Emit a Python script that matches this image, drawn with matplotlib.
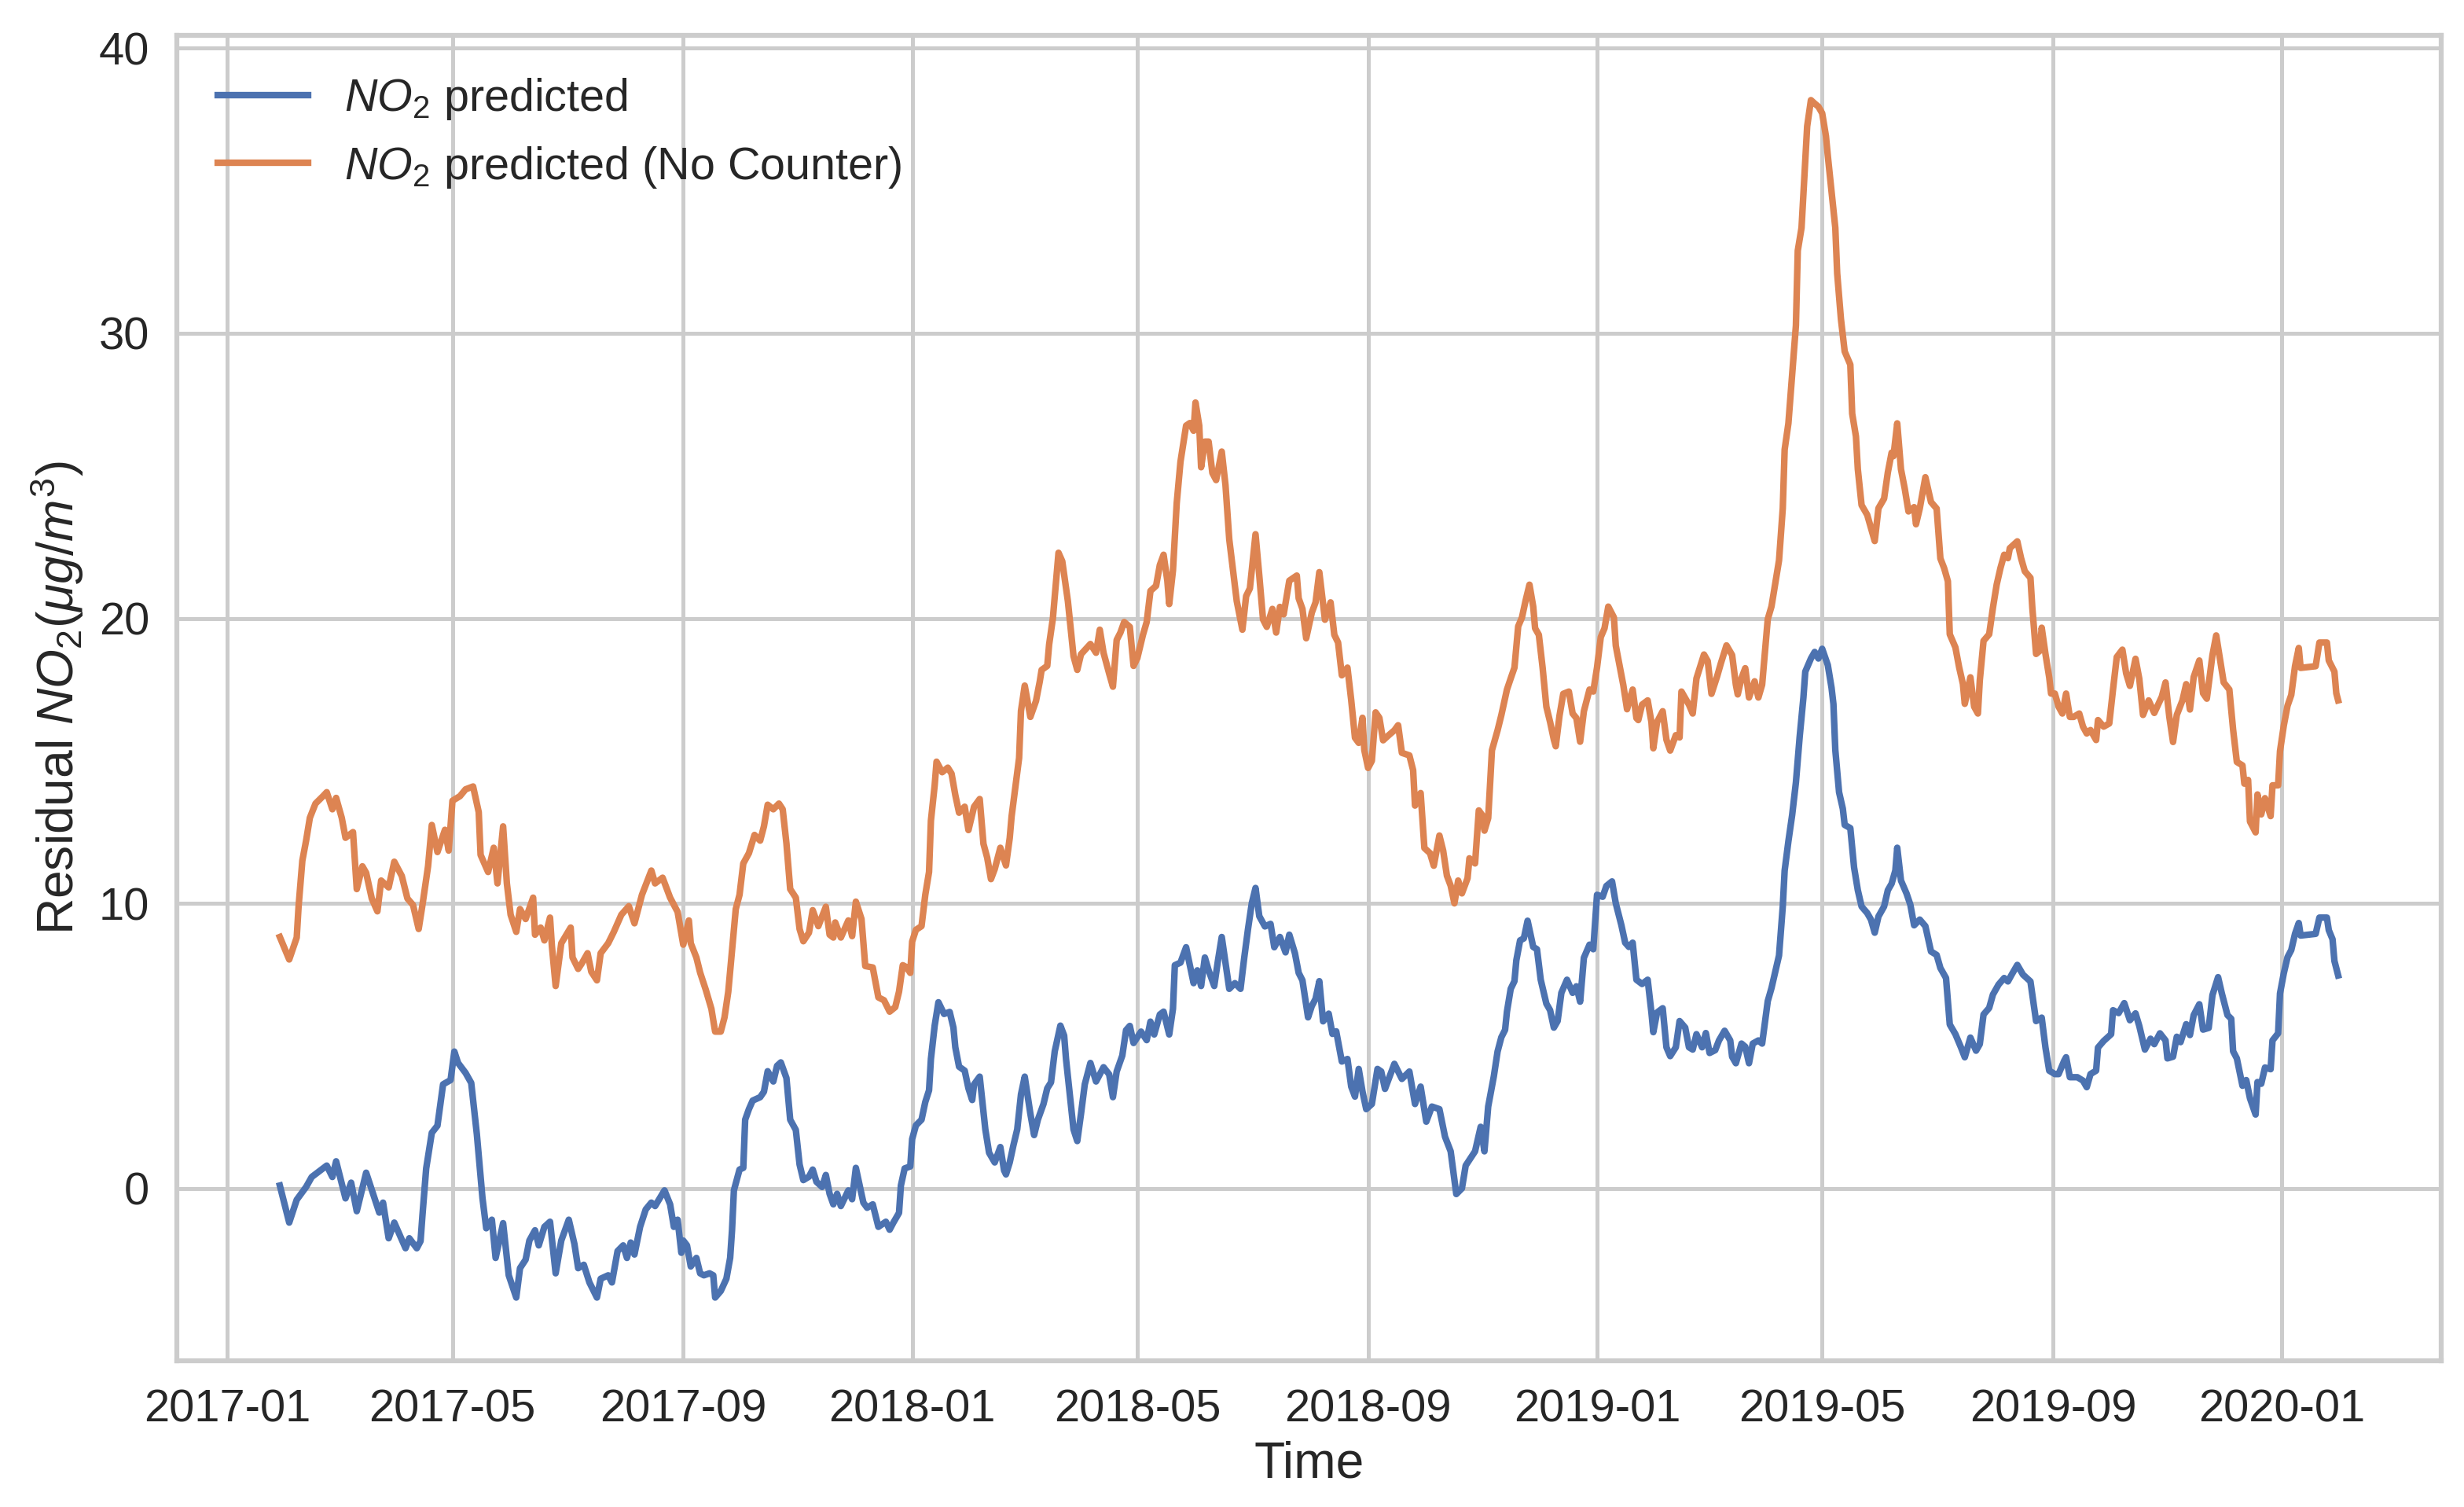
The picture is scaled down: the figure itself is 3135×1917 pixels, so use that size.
import matplotlib
matplotlib.use('Agg')
import matplotlib.pyplot as plt
import matplotlib.dates as mdates
import pandas as pd

START = '2017-01-01'

blue_days = [28, 33, 37, 42, 45, 49, 53, 56, 58, 63, 66, 69, 74, 81, 83, 86, 89, 95, 97, 101, 103, 104, 106, 109, 112, 115, 119, 121, 123, 127, 130, 132, 133, 136, 138, 141, 143, 147, 150, 154, 156, 159, 161, 164, 166, 169, 172, 175, 178, 182, 185, 187, 190, 193, 197, 199, 203, 205, 208, 211, 213, 215, 217, 220, 223, 226, 228, 233, 236, 238, 240, 242, 243, 245, 247, 250, 252, 254, 257, 259, 260, 263, 266, 268, 269, 270, 273, 275, 276, 278, 280, 284, 286, 288, 291, 293, 295, 298, 300, 303, 305, 307, 310, 312, 314, 317, 319, 321, 323, 325, 327, 331, 333, 335, 337, 339, 341, 344, 347, 351, 353, 355, 358, 359, 361, 364, 365, 367, 370, 372, 374, 375, 377, 379, 382, 385, 387, 388, 390, 393, 395, 397, 398, 401, 402, 404, 406, 409, 412, 414, 415, 417, 419, 421, 423, 425, 428, 430, 432, 435, 437, 439, 441, 444, 446, 447, 449, 451, 453, 455, 457, 460, 463, 467, 470, 472, 474, 477, 479, 481, 483, 487, 490, 492, 494, 497, 499, 502, 504, 505, 508, 511, 513, 515, 517, 519, 521, 523, 526, 528, 530, 532, 534, 537, 540, 542, 544, 546, 548, 550, 553, 556, 558, 561, 564, 566, 569, 571, 573, 576, 578, 580, 582, 584, 587, 589, 591, 594, 597, 599, 601, 603, 605, 607, 610, 613, 615, 617, 619, 622, 626, 630, 633, 636, 639, 642, 646, 649, 652, 654, 655, 658, 660, 665, 668, 670, 672, 675, 677, 679, 681, 682, 684, 686, 687, 689, 691, 693, 696, 698, 700, 703, 705, 707, 709, 711, 714, 717, 719, 721, 723, 726, 728, 730, 733, 735, 738, 740, 743, 745, 747, 749, 751, 754, 757, 759, 760, 762, 765, 767, 769, 772, 774, 777, 779, 781, 783, 786, 788, 790, 793, 795, 798, 801, 802, 804, 807, 809, 811, 813, 816, 818, 821, 823, 825, 827, 829, 830, 832, 834, 836, 838, 840, 841, 844, 846, 848, 850, 853, 855, 856, 857, 859, 861, 862, 865, 867, 869, 871, 874, 876, 878, 880, 883, 885, 887, 889, 890, 892, 895, 897, 899, 902, 905, 908, 911, 913, 916, 918, 921, 924, 926, 929, 932, 934, 936, 939, 941, 944, 947, 949, 951, 954, 957, 961, 964, 967, 969, 971, 974, 976, 979, 980, 982, 986, 989, 991, 993, 996, 997, 1000, 1004, 1005, 1008, 1011, 1014, 1017, 1019, 1022, 1025, 1027, 1030, 1033, 1034, 1037, 1039, 1041, 1044, 1046, 1048, 1051, 1053, 1056, 1058, 1061, 1063, 1066, 1068, 1069, 1071, 1074, 1076, 1078, 1081, 1082, 1084, 1086, 1089, 1090, 1093, 1094, 1096, 1098, 1100, 1102, 1104, 1105, 1113, 1115, 1119, 1120, 1122, 1123, 1125]
blue_vals = [0.1, -1.2, -0.4, 0.05, 0.4, 0.6, 0.8, 0.4, 0.95, -0.35, 0.2, -0.8, 0.55, -0.85, -0.5, -1.75, -1.2, -2.1, -1.75, -2.1, -1.85, -0.95, 0.7, 1.95, 2.2, 3.65, 3.8, 4.8, 4.4, 4.05, 3.7, 2.5, 1.9, -0.34, -1.4, -1.1, -2.44, -1.22, -3.05, -3.83, -2.8, -2.5, -1.83, -1.47, -2.0, -1.35, -1.17, -2.98, -1.83, -1.1, -1.95, -2.8, -2.68, -3.3, -3.83, -3.17, -3.05, -3.3, -2.2, -2.0, -2.44, -1.9, -2.32, -1.35, -0.74, -0.5, -0.62, -0.07, -0.56, -1.35, -1.1, -2.26, -1.83, -2.0, -2.74, -2.44, -2.98, -3.05, -2.98, -3.05, -3.83, -3.6, -3.17, -2.44, -1.47, -0.07, 0.66, 0.72, 2.41, 2.78, 3.08, 3.2, 3.39, 4.11, 3.75, 4.3, 4.42, 3.87, 2.41, 2.05, 0.84, 0.29, 0.41, 0.66, 0.23, 0.05, 0.47, -0.19, -0.56, -0.19, -0.62, -0.07, -0.38, 0.72, 0.11, -0.5, -0.68, -0.56, -1.35, -1.17, -1.45, -1.2, -0.86, 0.1, 0.7, 0.77, 1.73, 2.21, 2.41, 3.03, 3.44, 4.54, 5.71, 6.53, 6.12, 6.19, 5.64, 4.95, 4.27, 4.13, 3.51, 3.1, 3.65, 3.92, 3.3, 2.07, 1.25, 0.91, 1.45, 0.63, 0.49, 0.91, 1.52, 2.07, 3.3, 3.92, 2.62, 1.87, 2.41, 2.96, 3.51, 3.72, 4.81, 5.71, 5.36, 4.54, 3.3, 2.07, 1.66, 2.62, 3.65, 4.4, 3.75, 4.25, 4.0, 3.2, 4.1, 4.66, 5.55, 5.7, 5.1, 5.5, 5.2, 5.85, 5.4, 6.1, 6.2, 5.4, 6.3, 7.83, 7.92, 8.46, 7.83, 7.2, 7.65, 7.1, 8.1, 7.65, 7.1, 8.0, 8.82, 7.92, 7.0, 7.2, 7.0, 8.1, 9.1, 10.0, 10.54, 9.55, 9.19, 9.28, 8.46, 8.82, 8.28, 8.9, 8.25, 7.56, 7.3, 6.0, 6.4, 6.65, 7.27, 5.86, 6.13, 5.42, 5.51, 4.45, 4.54, 3.57, 3.22, 4.19, 3.4, 2.78, 2.96, 4.19, 4.1, 3.49, 3.84, 4.37, 3.84, 4.1, 2.96, 3.57, 2.34, 2.87, 2.78, 1.81, 1.3, 0.3, -0.2, 0.0, 0.8, 1.3, 2.16, 1.3, 2.87, 3.93, 4.8, 5.3, 5.56, 6.2, 7.0, 7.27, 8.0, 8.7, 8.77, 9.39, 8.47, 8.39, 7.32, 6.48, 6.25, 5.64, 5.87, 6.86, 7.32, 6.86, 7.09, 6.55, 8.09, 8.55, 8.39, 10.3, 10.23, 10.61, 10.77, 10.0, 9.23, 8.62, 8.47, 8.62, 7.32, 7.17, 7.32, 6.17, 5.48, 6.17, 6.32, 4.95, 4.64, 4.95, 5.87, 5.64, 4.95, 4.87, 5.41, 4.95, 5.45, 4.75, 4.85, 5.19, 5.53, 5.19, 4.62, 4.39, 5.08, 4.97, 4.39, 5.08, 5.19, 5.08, 6.57, 7.03, 7.6, 8.17, 9.89, 11.15, 12.18, 13.1, 14.24, 15.84, 17.22, 18.13, 18.59, 18.82, 18.59, 18.93, 18.36, 17.56, 16.99, 15.38, 13.9, 13.32, 12.75, 12.64, 11.26, 10.46, 9.89, 9.66, 9.43, 8.97, 9.54, 9.89, 10.46, 10.69, 11.15, 11.95, 10.8, 10.34, 9.95, 9.23, 9.43, 9.2, 8.31, 8.19, 7.73, 7.38, 5.75, 5.41, 4.94, 4.6, 5.29, 4.83, 5.06, 6.1, 6.33, 6.8, 7.15, 7.38, 7.26, 7.5, 7.84, 7.5, 7.26, 5.87, 5.99, 4.94, 4.13, 4.01, 4.01, 4.48, 4.6, 3.9, 3.9, 3.78, 3.55, 4.01, 4.13, 4.94, 5.17, 5.41, 6.25, 6.15, 6.5, 5.9, 6.14, 5.7, 4.87, 5.25, 5.06, 5.44, 5.19, 4.56, 4.62, 5.32, 5.13, 5.76, 5.38, 6.08, 6.46, 5.57, 5.63, 6.78, 7.41, 6.84, 6.08, 5.95, 4.81, 4.56, 3.6, 3.8, 3.16, 2.59, 3.73, 3.67, 4.24, 4.18, 5.19, 5.44, 6.84, 7.54, 8.11, 8.36, 8.93, 9.31, 8.87, 8.93, 9.5, 9.5, 9.06, 8.74, 7.98, 7.47]

orange_days = [28, 33, 37, 38, 40, 42, 44, 47, 51, 53, 56, 58, 61, 63, 67, 69, 72, 74, 77, 80, 82, 86, 89, 93, 96, 99, 102, 104, 107, 109, 112, 116, 118, 120, 124, 127, 131, 134, 135, 139, 142, 144, 147, 149, 151, 154, 156, 159, 163, 164, 167, 169, 172, 173, 175, 178, 183, 184, 187, 189, 192, 194, 197, 199, 203, 206, 210, 214, 217, 221, 226, 228, 232, 236, 240, 243, 246, 247, 250, 252, 255, 258, 260, 263, 265, 267, 269, 271, 273, 275, 278, 281, 284, 286, 288, 291, 294, 296, 298, 300, 303, 305, 307, 310, 312, 315, 319, 321, 323, 324, 327, 331, 333, 335, 338, 340, 344, 347, 350, 353, 356, 358, 360, 362, 364, 365, 367, 370, 372, 374, 375, 377, 378, 381, 384, 386, 388, 390, 393, 395, 398, 401, 403, 405, 407, 409, 412, 415, 417, 418, 420, 422, 423, 425, 428, 431, 433, 434, 437, 438, 440, 443, 445, 448, 451, 453, 455, 460, 463, 465, 467, 470, 472, 474, 476, 478, 481, 483, 485, 488, 490, 492, 495, 497, 499, 501, 502, 504, 506, 508, 511, 513, 515, 516, 518, 519, 521, 523, 525, 527, 530, 532, 534, 536, 538, 541, 543, 545, 548, 550, 552, 554, 557, 559, 561, 563, 566, 570, 571, 573, 575, 578, 580, 582, 585, 588, 590, 592, 594, 597, 599, 601, 603, 605, 606, 608, 610, 612, 614, 616, 619, 622, 624, 626, 630, 632, 633, 636, 638, 641, 643, 646, 648, 650, 652, 654, 656, 658, 661, 662, 665, 667, 669, 670, 672, 674, 677, 679, 682, 684, 686, 688, 690, 692, 694, 696, 697, 699, 701, 703, 705, 707, 708, 710, 712, 715, 717, 719, 721, 723, 726, 728, 730, 732, 734, 736, 739, 740, 742, 744, 746, 749, 751, 752, 754, 757, 759, 760, 762, 765, 767, 769, 772, 774, 775, 779, 781, 783, 787, 789, 791, 794, 796, 799, 802, 804, 805, 807, 809, 811, 814, 816, 818, 821, 823, 825, 827, 829, 830, 832, 834, 836, 837, 839, 841, 842, 844, 846, 848, 850, 852, 853, 855, 857, 858, 860, 862, 865, 866, 868, 869, 871, 874, 878, 880, 883, 885, 887, 888, 890, 892, 894, 896, 899, 900, 902, 905, 908, 911, 913, 915, 917, 918, 921, 923, 925, 926, 929, 931, 933, 934, 936, 939, 941, 943, 945, 947, 949, 950, 954, 956, 958, 961, 962, 964, 966, 967, 969, 971, 972, 974, 976, 978, 980, 982, 984, 987, 989, 991, 993, 996, 997, 1000, 1003, 1005, 1007, 1010, 1012, 1014, 1017, 1019, 1021, 1024, 1027, 1031, 1033, 1035, 1037, 1039, 1042, 1044, 1046, 1048, 1051, 1053, 1055, 1058, 1060, 1062, 1064, 1067, 1069, 1071, 1074, 1075, 1077, 1078, 1081, 1082, 1084, 1086, 1089, 1090, 1093, 1094, 1096, 1098, 1100, 1102, 1104, 1105, 1113, 1115, 1119, 1120, 1123, 1124, 1125]
orange_vals = [8.82, 8.03, 8.8, 9.9, 11.5, 12.2, 13.0, 13.5, 13.76, 13.9, 13.3, 13.7, 13.0, 12.3, 12.5, 10.5, 11.3, 11.07, 10.17, 9.72, 10.8, 10.56, 11.46, 10.96, 10.17, 9.94, 9.1, 9.94, 11.3, 12.75, 11.8, 12.58, 11.85, 13.6, 13.76, 14.0, 14.1, 13.2, 11.7, 11.1, 11.95, 10.7, 12.7, 10.7, 9.6, 9.0, 9.8, 9.45, 10.2, 8.9, 9.15, 8.7, 9.5, 8.5, 7.1, 8.6, 9.15, 8.1, 7.7, 7.9, 8.25, 7.6, 7.3, 8.25, 8.6, 9.0, 9.6, 9.9, 9.3, 10.3, 11.15, 10.7, 10.9, 10.2, 9.7, 8.55, 9.4, 8.6, 8.1, 7.57, 6.97, 6.3, 5.5, 5.5, 6.0, 6.9, 8.36, 9.8, 10.3, 11.4, 11.76, 12.4, 12.2, 12.7, 13.46, 13.3, 13.5, 13.3, 12.1, 10.5, 10.2, 9.1, 8.67, 8.97, 9.76, 9.2, 9.88, 8.9, 8.8, 9.33, 8.8, 9.4, 8.85, 10.06, 9.45, 7.8, 7.75, 6.7, 6.6, 6.2, 6.36, 6.9, 7.83, 7.76, 7.56, 8.66, 9.07, 9.2, 10.3, 11.1, 12.9, 14.14, 14.97, 14.6, 14.76, 14.55, 13.8, 13.18, 13.39, 12.57, 13.39, 13.66, 12.09, 11.6, 10.85, 11.2, 11.95, 11.33, 12.29, 13.05, 14.07, 15.1, 16.75, 17.64, 16.54, 17.1, 17.78, 18.19, 18.33, 19.08, 20.0, 22.3, 22.0, 20.6, 18.67, 18.19, 18.74, 19.1, 18.79, 19.6, 18.79, 18.06, 17.6, 19.24, 19.5, 19.87, 19.7, 18.33, 18.6, 19.42, 19.87, 20.96, 21.14, 21.87, 22.23, 21.32, 20.5, 21.68, 24.04, 25.49, 26.76, 26.85, 26.58, 27.57, 26.76, 25.3, 26.2, 26.2, 25.1, 24.85, 25.85, 24.67, 22.77, 21.68, 20.6, 19.6, 20.78, 21.05, 22.95, 21.5, 19.96, 19.7, 20.33, 19.5, 20.4, 20.14, 21.32, 21.5, 20.7, 20.33, 19.3, 20.2, 20.56, 21.62, 19.95, 20.56, 19.42, 19.15, 18.0, 18.27, 17.13, 15.81, 15.63, 16.51, 15.37, 14.75, 15.0, 16.7, 16.51, 15.72, 15.9, 16.07, 16.25, 15.28, 15.19, 14.67, 13.43, 13.87, 11.94, 11.76, 11.32, 12.38, 11.85, 10.97, 10.62, 10.0, 10.8, 10.35, 10.88, 11.58, 11.4, 13.26, 13.08, 12.55, 12.99, 15.37, 16.07, 16.6, 17.5, 17.89, 18.27, 19.72, 20.03, 20.64, 21.18, 20.41, 19.65, 19.42, 18.27, 16.9, 16.36, 15.74, 15.51, 16.58, 17.35, 17.43, 16.66, 16.5, 15.67, 16.74, 17.5, 17.43, 18.27, 19.34, 19.65, 20.41, 20.03, 19.04, 18.35, 17.66, 16.81, 17.5, 16.5, 16.43, 16.97, 17.12, 16.36, 15.44, 16.36, 16.74, 15.74, 15.36, 15.9, 15.82, 17.43, 16.97, 16.66, 17.89, 18.73, 18.5, 17.35, 17.96, 18.42, 19.05, 18.71, 17.67, 17.33, 17.9, 18.25, 17.22, 17.79, 17.22, 17.67, 19.97, 20.42, 21.23, 22.03, 23.86, 25.92, 26.84, 28.56, 30.27, 32.9, 33.7, 36.1, 37.26, 38.18, 38.06, 37.95, 37.72, 36.92, 36.23, 34.97, 33.7, 32.1, 30.5, 29.36, 28.9, 27.18, 26.38, 25.23, 23.97, 23.63, 22.71, 23.86, 24.2, 25.12, 25.81, 25.69, 26.84, 25.23, 24.55, 23.75, 23.9, 23.3, 23.85, 24.95, 24.08, 23.85, 22.1, 21.76, 21.3, 19.44, 18.98, 18.28, 17.7, 17.0, 17.93, 16.9, 16.66, 17.82, 19.21, 19.44, 20.37, 21.18, 21.76, 22.23, 22.11, 22.46, 22.7, 22.11, 21.65, 21.42, 20.37, 18.75, 18.86, 19.67, 18.75, 17.93, 17.36, 17.36, 16.9, 16.66, 17.36, 16.54, 16.54, 16.66, 16.2, 15.96, 16.08, 15.73, 16.43, 16.2, 16.31, 17.5, 18.64, 18.9, 18.07, 17.63, 18.58, 17.88, 16.61, 17.12, 16.68, 17.25, 17.75, 16.55, 15.66, 16.61, 17.12, 17.69, 16.8, 17.94, 18.52, 17.37, 17.18, 18.71, 19.4, 18.58, 17.75, 17.5, 16.1, 14.96, 14.84, 14.2, 14.33, 12.87, 12.49, 13.82, 13.12, 13.69, 13.06, 14.14, 14.14, 15.34, 16.23, 16.93, 17.31, 18.32, 18.96, 18.26, 18.32, 19.15, 19.15, 18.52, 18.13, 17.37, 17.12]

series_labels = [r'$NO_2$ predicted', r'$NO_2$ predicted (No Counter)']
series_colors = ['#4C72B0', '#DD8452']
y_ticks = [0, 10, 20, 30, 40]
x_label = 'Time'
y_label = r'Residual $NO_2(\mu g/m^3)$'

plt.rcParams.update({
    'font.family': ['Liberation Sans', 'DejaVu Sans'],
    'mathtext.fontset': 'custom',
    'mathtext.rm': 'Liberation Sans',
    'mathtext.it': 'Liberation Sans:italic',
    'mathtext.bf': 'Liberation Sans:bold',
    'axes.edgecolor': '.8',
    'axes.linewidth': 1.5,
    'grid.color': '.8',
    'grid.linewidth': 1.2,
    'text.color': '.15',
    'axes.labelcolor': '.15',
    'xtick.color': '.15',
    'ytick.color': '.15',
    'xtick.major.size': 0,
    'ytick.major.size': 0,
    'xtick.major.pad': 8.4,
    'ytick.major.pad': 8.4,
    'xtick.labelsize': 13.9,
    'ytick.labelsize': 13.9,
    'axes.labelsize': 15.4,
    'legend.fontsize': 13.8,
    'lines.linewidth': 2.0,
})

start = pd.Timestamp(START)
blue_dates = start + pd.to_timedelta(blue_days, unit='D')
orange_dates = start + pd.to_timedelta(orange_days, unit='D')

fig = plt.figure(figsize=(10.45, 6.39), dpi=300)
ax = fig.add_axes([0.0718, 0.0970, 0.9189, 0.8795])
ax.set_axisbelow(True)
ax.grid(True)

ax.plot(blue_dates, blue_vals, color=series_colors[0], label=series_labels[0])
ax.plot(orange_dates, orange_vals, color=series_colors[1], label=series_labels[1])

ax.set_ylim(-6.05, 40.45)
ax.set_yticks(y_ticks)
ax.xaxis.set_major_locator(mdates.MonthLocator(bymonth=[1, 5, 9]))
ax.xaxis.set_major_formatter(mdates.DateFormatter('%Y-%m'))
ax.margins(x=0.05)

ax.set_xlabel(x_label, labelpad=3)
ax.set_ylabel(y_label)
ax.legend(loc='upper left', frameon=False)

fig.savefig('out.png', dpi=300)
